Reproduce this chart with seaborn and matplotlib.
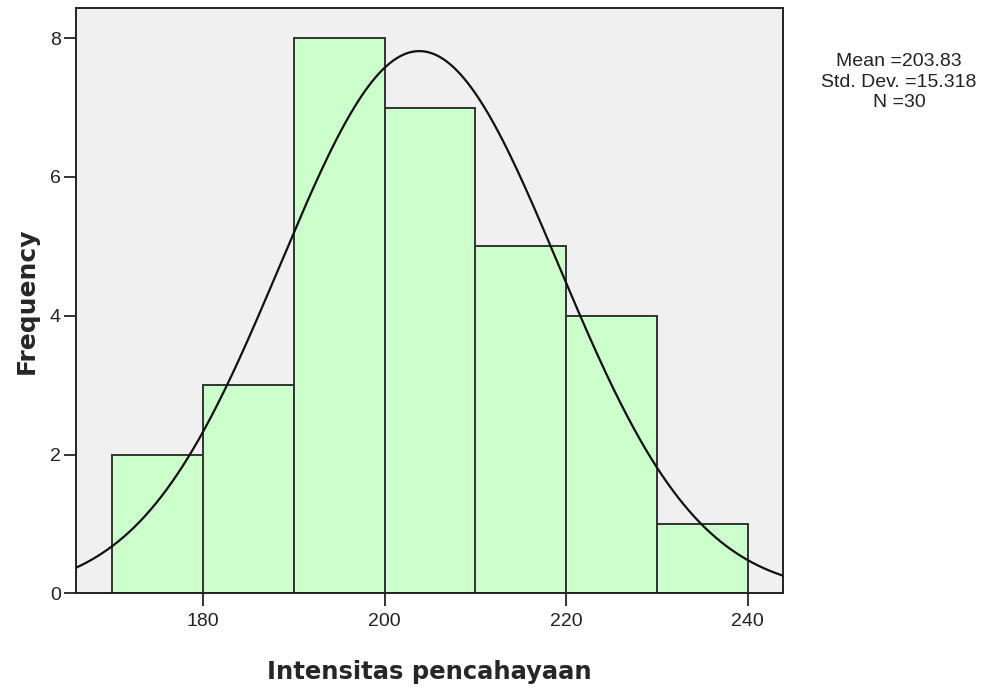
import numpy as np
import pandas as pd
import matplotlib
matplotlib.use("Agg")
import matplotlib.pyplot as plt
import seaborn as sns

# Data
bin_edges = [170, 180, 190, 200, 210, 220, 230, 240]
counts = [2, 3, 8, 7, 5, 4, 1]
mean_val = 203.83
sd_val = 15.318
n_val = 30
x_ticks = [180, 200, 220, 240]
y_ticks = [0, 2, 4, 6, 8]
x_label = "Intensitas pencahayaan"
y_label = "Frequency"

sns.set_style("white")
plt.rcParams['font.family'] = ['Liberation Sans', 'DejaVu Sans']

fig = plt.figure(figsize=(10, 6.9), dpi=100)
ax = fig.add_axes([0.076, 0.140, 0.707, 0.848])
ax.set_facecolor("#f0f0f0")

centers = [(a + b) / 2 for a, b in zip(bin_edges[:-1], bin_edges[1:])]
df = pd.DataFrame({"x": centers, "w": counts})
sns.histplot(data=df, x="x", weights="w", bins=bin_edges, ax=ax,
             color="#ccffcc", alpha=1, edgecolor="#333333", linewidth=1.4, zorder=2)

xmin, xmax = 166.0, 243.9
xs = np.linspace(xmin, xmax, 400)
binw = bin_edges[1] - bin_edges[0]
ys = n_val * binw / (sd_val * np.sqrt(2 * np.pi)) * np.exp(-0.5 * ((xs - mean_val) / sd_val) ** 2)
sns.lineplot(x=xs, y=ys, ax=ax, color="#111111", linewidth=1.6, zorder=3)

ax.set_xlim(xmin, xmax)
ax.set_ylim(0, 8.43)
ax.set_xticks(x_ticks)
ax.set_yticks(y_ticks)
ax.tick_params(axis="both", direction="out", length=9, width=1.3, color="#222222",
               labelsize=14, labelcolor="#222222", pad=2, bottom=True, left=True)
ax.tick_params(axis="x", pad=5)
for s in ax.spines.values():
    s.set_color("#222222")
    s.set_linewidth(1.4)

ax.set_xlabel(x_label, fontsize=17.5, fontweight="bold", family="DejaVu Sans")
ax.set_ylabel(y_label, fontsize=18, fontweight="bold", family="DejaVu Sans")
ax.xaxis.label.set_va("center")
ax.yaxis.label.set_va("center")
ax.xaxis.set_label_coords(0.5, -0.135)
ax.yaxis.set_label_coords(-0.069, 0.5)

fig.text(0.899, 0.881, f"Mean ={mean_val:.2f}\nStd. Dev. ={sd_val:.3f}\nN ={n_val}",
         ha="center", va="center", fontsize=14, color="#222222", linespacing=1.25)

fig.savefig("out.png", dpi=100)
